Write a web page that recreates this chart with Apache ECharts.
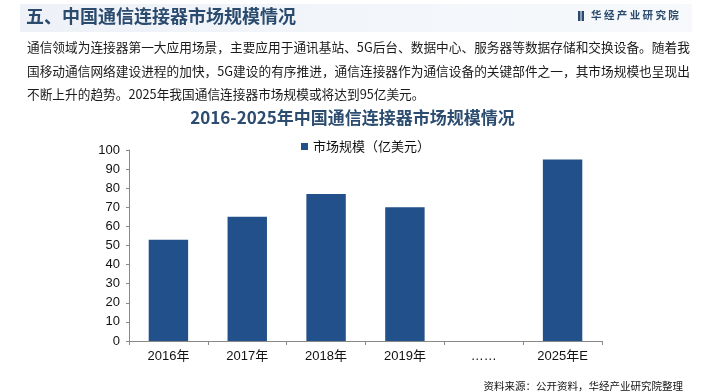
<!DOCTYPE html>
<html><head><meta charset="utf-8">
<script src="https://cdn.jsdelivr.net/npm/echarts@6/dist/echarts.min.js"></script>
<style>html,body{margin:0;padding:0;background:#fff;}#c{width:705px;height:392px;}</style>
</head><body><div id="c"></div>
<script>
const categories = ['2016年', '2017年', '2018年', '2019年', '……', '2025年E'];
const marketSize = [53, 65, 77, 70, null, 95];
const seriesName = '市场规模（亿美元）';
const yMin = 0, yMax = 100, yStep = 10;
const pageTitle = '五、中国通信连接器市场规模情况';
const chartTitle = '2016-2025年中国通信连接器市场规模情况';
const bodyLines = [
  '通信领域为连接器第一大应用场景，主要应用于通讯基站、5G后台、数据中心、服务器等数据存储和交换设备。随着我',
  '国移动通信网络建设进程的加快，5G建设的有序推进，通信连接器作为通信设备的关键部件之一，其市场规模也呈现出',
  '不断上升的趋势。2025年我国通信连接器市场规模或将达到95亿美元。'
];
const brand = '华 经 产 业 研 究 院';
const sourceText = '资料来源：公开资料，华经产业研究院整理';

const CJK = '"Noto Sans CJK SC", "Liberation Sans", sans-serif';
const NUM = '"Liberation Sans", "Noto Sans CJK SC", sans-serif';
const chart = echarts.init(document.getElementById('c'), null, {renderer: 'canvas'});

const graphics = [
  {type: 'rect', left: 20, top: 4, shape: {width: 672, height: 28},
   style: {fill: new echarts.graphic.LinearGradient(0, 0, 1, 0, [
     {offset: 0, color: '#eef2f8'}, {offset: 0.6, color: '#f3f6fa'}, {offset: 1, color: '#f7f9fc'}])}, z: 0},
  {type: 'text', left: 26, top: 7, style: {text: pageTitle, font: 'bold 18px ' + CJK, fill: '#2a4a6e'}, z: 2},
  {type: 'rect', left: 578, top: 11, shape: {width: 2.5, height: 10}, style: {fill: '#2a4a6e'}, z: 2},
  {type: 'rect', left: 581.5, top: 11, shape: {width: 2.5, height: 10}, style: {fill: '#2a4a6e'}, z: 2},
  {type: 'text', left: 591, top: 10, style: {text: brand, font: 'bold 10.5px ' + CJK, fill: '#2a4a6e'}, z: 2},
  {type: 'text', right: 22, bottom: 1, style: {text: sourceText, font: '10.5px ' + CJK, fill: '#111'}, z: 2}
];
bodyLines.forEach((t, i) => {
  graphics.push({type: 'text', left: 27, top: 41 + i * 23.5,
    style: {text: t, font: '12.7px ' + CJK, fill: '#1a1a1a'}, z: 2});
});

chart.setOption({
  animation: false,
  title: {text: chartTitle, left: 'center', top: 104,
    textStyle: {fontFamily: CJK, fontSize: 17, fontWeight: 'bold', color: '#2c4c70'}},
  legend: {top: 135, left: 296, itemWidth: 7, itemHeight: 7, itemGap: 4,
    icon: 'rect', textStyle: {fontFamily: CJK, fontSize: 13, color: '#111'},
    data: [seriesName]},
  graphic: graphics,
  grid: {left: 129, right: 103, top: 150, bottom: 51, containLabel: false},
  xAxis: {type: 'category', data: categories, boundaryGap: true,
    axisLine: {lineStyle: {color: '#888', width: 1}},
    axisTick: {show: true, alignWithLabel: false, length: 4, lineStyle: {color: '#888'}},
    axisLabel: {fontFamily: NUM, fontSize: 13, color: '#111', margin: 9}},
  yAxis: {type: 'value', min: yMin, max: yMax, interval: yStep,
    splitLine: {show: false},
    axisLine: {show: true, lineStyle: {color: '#888', width: 1}},
    axisTick: {show: true, length: 3, lineStyle: {color: '#888'}},
    axisLabel: {fontFamily: NUM, fontSize: 13, color: '#111', margin: 9}},
  series: [{name: seriesName, type: 'bar', data: marketSize, barWidth: '50%',
    itemStyle: {color: '#22508a'}}]
});
</script></body></html>
